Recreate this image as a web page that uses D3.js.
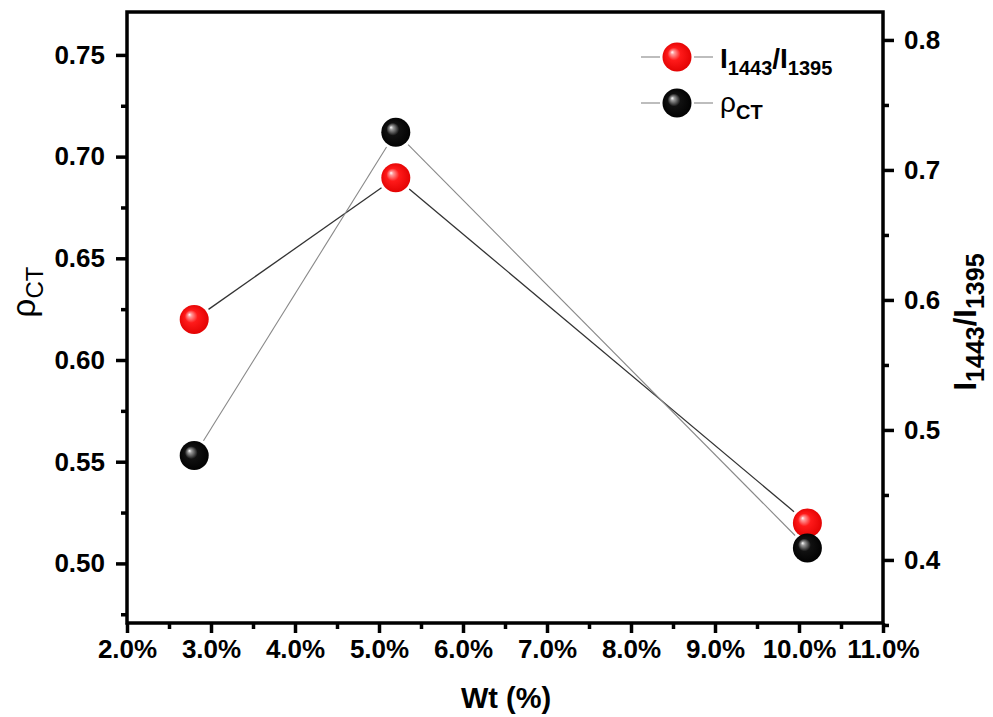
<!DOCTYPE html>
<html lang="en">
<head>
<meta charset="UTF-8">
<title>rho CT and I1443/I1395 vs Wt</title>
<script src="https://d3js.org/d3.v7.min.js"></script>
<style>
  body { margin: 0; background: #fff; }
  text { font-family: "Liberation Sans", Arial, sans-serif; }
</style>
</head>
<body>
<div id="chart"></div>
<script>
// data
var wt = [2.8, 5.2, 10.1];
var ratio = [0.585, 0.694, 0.4285];   // I1443/I1395, right axis
var rho = [0.553, 0.712, 0.5076];     // rho_CT, left axis

var xTicks = [2, 3, 4, 5, 6, 7, 8, 9, 10, 11];
var leftTicks = [0.50, 0.55, 0.60, 0.65, 0.70, 0.75];
var rightTicks = [0.4, 0.5, 0.6, 0.7, 0.8];

var width = 993, height = 717;
var plotL = 127, plotR = 883, plotT = 12, plotB = 623;

var svg = d3.select('#chart').append('svg')
  .attr('width', width)
  .attr('height', height);

var x = d3.scaleLinear().domain([2, 11]).range([plotL, plotR]);
var yL = d3.scaleLinear().domain([0.4707, 0.7711]).range([plotB, plotT]);
var yR = d3.scaleLinear().domain([0.3515, 0.8215]).range([plotB, plotT]);

// gradients for the shiny balls
var defs = svg.append('defs');
function ball(id, c0, c1, c2) {
  var g = defs.append('radialGradient').attr('id', id)
    .attr('cx', '50%').attr('cy', '50%').attr('r', '55%')
    .attr('fx', '33%').attr('fy', '33%');
  g.append('stop').attr('offset', '0%').attr('stop-color', '#fff');
  g.append('stop').attr('offset', '12%').attr('stop-color', c0);
  g.append('stop').attr('offset', '40%').attr('stop-color', c1);
  g.append('stop').attr('offset', '100%').attr('stop-color', c2);
}
ball('gRed', '#ff9a9a', '#ff1a1a', '#e00000');
ball('gBlack', '#9a9a9a', '#111', '#000');

var r = 14.5;

// axes
function styleAxis(g) {
  g.select('.domain').remove();
  g.selectAll('line').attr('stroke', '#000').attr('stroke-width', 3.5);
  g.selectAll('text').attr('font-size', 26).attr('font-weight', 'bold').attr('fill', '#000');
}

var xAxis = svg.append('g').attr('transform', 'translate(0,' + plotB + ')')
  .call(d3.axisBottom(x).tickValues(xTicks).tickSize(10).tickPadding(7)
    .tickFormat(function(d) { return d3.format('.1f')(d) + '%'; }));
styleAxis(xAxis);
svg.append('g').attr('transform', 'translate(0,' + plotB + ')')
  .call(d3.axisBottom(x).tickValues(d3.range(2.5, 11, 1)).tickSize(6).tickFormat(''))
  .call(styleAxis);

var yLeft = svg.append('g').attr('transform', 'translate(' + plotL + ',0)')
  .call(d3.axisLeft(yL).tickValues(leftTicks).tickSize(11).tickPadding(11)
    .tickFormat(d3.format('.2f')));
styleAxis(yLeft);
svg.append('g').attr('transform', 'translate(' + plotL + ',0)')
  .call(d3.axisLeft(yL).tickValues([0.475, 0.525, 0.575, 0.625, 0.675, 0.725]).tickSize(6).tickFormat(''))
  .call(styleAxis);

var yRight = svg.append('g').attr('transform', 'translate(' + plotR + ',0)')
  .call(d3.axisRight(yR).tickValues(rightTicks).tickSize(11).tickPadding(10)
    .tickFormat(d3.format('.1f')));
styleAxis(yRight);
svg.append('g').attr('transform', 'translate(' + plotR + ',0)')
  .call(d3.axisRight(yR).tickValues([0.35, 0.45, 0.55, 0.65, 0.75]).tickSize(6).tickFormat(''))
  .call(styleAxis);

// frame
svg.append('rect')
  .attr('x', plotL).attr('y', plotT)
  .attr('width', plotR - plotL).attr('height', plotB - plotT)
  .attr('fill', 'none').attr('stroke', '#000').attr('stroke-width', 3.5);

// connecting lines with a small gap round the symbols
function gapLines(pts, color, w) {
  var gap = r + 3;
  for (var i = 0; i < pts.length - 1; i++) {
    var a = pts[i], b = pts[i + 1];
    var dx = b[0] - a[0], dy = b[1] - a[1];
    var len = Math.sqrt(dx * dx + dy * dy);
    var ux = dx / len, uy = dy / len;
    svg.append('line')
      .attr('x1', a[0] + ux * gap).attr('y1', a[1] + uy * gap)
      .attr('x2', b[0] - ux * gap).attr('y2', b[1] - uy * gap)
      .attr('stroke', color).attr('stroke-width', w);
  }
}

var ratioPts = wt.map(function(d, i) { return [x(d), yR(ratio[i])]; });
var rhoPts = wt.map(function(d, i) { return [x(d), yL(rho[i])]; });

gapLines(ratioPts, '#333', 1.3);
gapLines(rhoPts, '#888', 1.1);

svg.selectAll('.ratio').data(ratioPts).enter().append('circle')
  .attr('cx', function(d) { return d[0]; })
  .attr('cy', function(d) { return d[1]; })
  .attr('r', r).attr('fill', 'url(#gRed)');

svg.selectAll('.rho').data(rhoPts).enter().append('circle')
  .attr('cx', function(d) { return d[0]; })
  .attr('cy', function(d) { return d[1]; })
  .attr('r', r).attr('fill', 'url(#gBlack)');

// legend
var legend = [
  { fill: 'url(#gRed)', y: 57 },
  { fill: 'url(#gBlack)', y: 103 }
];
legend.forEach(function(l) {
  svg.append('line').attr('x1', 641).attr('x2', 660).attr('y1', l.y).attr('y2', l.y)
    .attr('stroke', '#888').attr('stroke-width', 1.1);
  svg.append('line').attr('x1', 694).attr('x2', 713).attr('y1', l.y).attr('y2', l.y)
    .attr('stroke', '#888').attr('stroke-width', 1.1);
  svg.append('circle').attr('cx', 677).attr('cy', l.y).attr('r', r).attr('fill', l.fill);
});

var t1 = svg.append('text').attr('x', 720).attr('y', 68)
  .attr('font-size', 28).attr('font-weight', 'bold');
t1.append('tspan').text('I');
t1.append('tspan').attr('dy', 7).attr('font-size', 20).text('1443');
t1.append('tspan').attr('dy', -7).text('/I');
t1.append('tspan').attr('dy', 7).attr('font-size', 20).text('1395');

var t2 = svg.append('text').attr('x', 720).attr('y', 112).attr('font-size', 28);
t2.append('tspan').text('ρ');
t2.append('tspan').attr('dy', 7).attr('font-size', 20).attr('font-weight', 'bold').text('CT');

// axis titles
svg.append('text').attr('x', 506).attr('y', 708)
  .attr('text-anchor', 'middle').attr('font-size', 29).attr('font-weight', 'bold')
  .text('Wt (%)');

var lt = svg.append('text').attr('transform', 'translate(35,292) rotate(-90)')
  .attr('text-anchor', 'middle').attr('font-size', 33);
lt.append('tspan').text('ρ');
lt.append('tspan').attr('dy', 8).attr('font-size', 24).text('CT');

var rt = svg.append('text').attr('transform', 'translate(976,322) rotate(-90)')
  .attr('text-anchor', 'middle').attr('font-size', 31).attr('font-weight', 'bold');
rt.append('tspan').text('I');
rt.append('tspan').attr('dy', 8).attr('font-size', 25).text('1443');
rt.append('tspan').attr('dy', -8).text('/I');
rt.append('tspan').attr('dy', 8).attr('font-size', 25).text('1395');
</script>
</body>
</html>
